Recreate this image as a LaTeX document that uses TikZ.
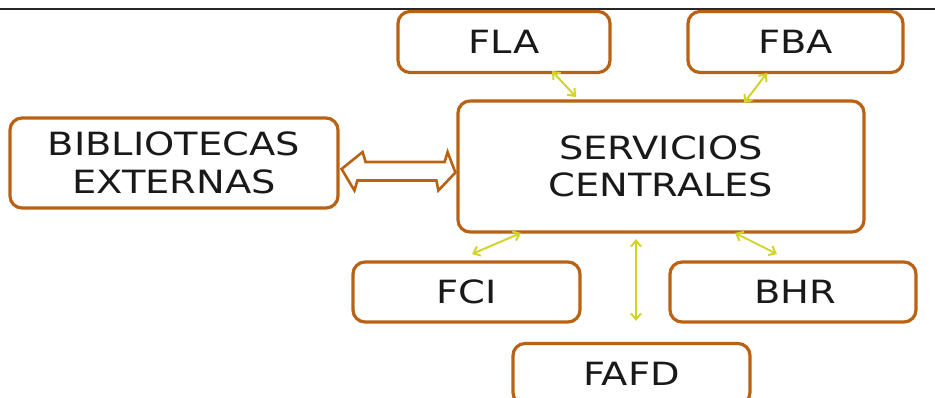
\documentclass[tikz,border=0pt]{standalone}
\usepackage{fontspec}
\setmainfont{DejaVu Sans}[FakeStretch=1.2]
\usetikzlibrary{arrows.meta}
\definecolor{boxc}{RGB}{185,98,20}
\definecolor{arrc}{RGB}{210,212,40}
\begin{document}
\begin{tikzpicture}[x=1pt,y=-1pt,
  box/.style={draw=boxc,line width=3.2pt,rounded corners=12pt,inner sep=0pt,
    font=\fontsize{32}{37.5}\selectfont,align=center,text=black!90},
  link/.style={draw=arrc,line width=2pt,{Straight Barb[length=6pt,width=10pt]}-{Straight Barb[length=6pt,width=10pt]}}]
\useasboundingbox (0,0) rectangle (935,398);
\draw[line width=2pt,black!85] (0,9) -- (935,9);
% boxes
\node[box,minimum width=212pt,minimum height=61pt] (fla) at (504,42) {FLA};
\node[box,minimum width=215pt,minimum height=61pt] (fba) at (795.5,42) {FBA};
\node[box,minimum width=328pt,minimum height=90pt] (bib) at (174,163) {BIBLIOTECAS\\EXTERNAS};
\node[box,minimum width=406pt,minimum height=131pt] (serv) at (661,166.5) {SERVICIOS\\CENTRALES};
\node[box,minimum width=227pt,minimum height=60pt] (fci) at (466.5,292) {FCI};
\node[box,minimum width=246pt,minimum height=60pt,text width=246pt] (bhr) at (793,292) {\hspace*{4pt}BHR};
\node[box,minimum width=237pt,minimum height=61pt] (fafd) at (631.5,374) {FAFD};
% connector end points
\coordinate (a1) at (552,71); \coordinate (a2) at (576,97);
\coordinate (b1) at (767,73); \coordinate (b2) at (744,103);
\coordinate (c1) at (521,233); \coordinate (c2) at (472,254);
\coordinate (d1) at (636,239); \coordinate (d2) at (636,321);
\coordinate (e1) at (735,233); \coordinate (e2) at (777,254);
\path[link] (a1) -- (a2);
\path[link] (b1) -- (b2);
\path[link] (c1) -- (c2);
\path[link] (d1) -- (d2);
\path[link] (e1) -- (e2);
% hollow double arrow between bib and serv
\coordinate (L) at ([yshift=-6pt]bib.east);
\coordinate (R) at ([yshift=-6pt]serv.west);
\draw[boxc,line width=2.6pt,fill=white,line join=miter]
  ([xshift=2pt]L) -- ++(21,-17) -- ++(3,10) -- ++(79,0) -- ++(3,-10) -- ([xshift=-1pt]R)
  -- ++(-17,18) -- ++(-2,-10) -- ++(-79,0) -- ++(-3,10) -- cycle;
\end{tikzpicture}
\end{document}
